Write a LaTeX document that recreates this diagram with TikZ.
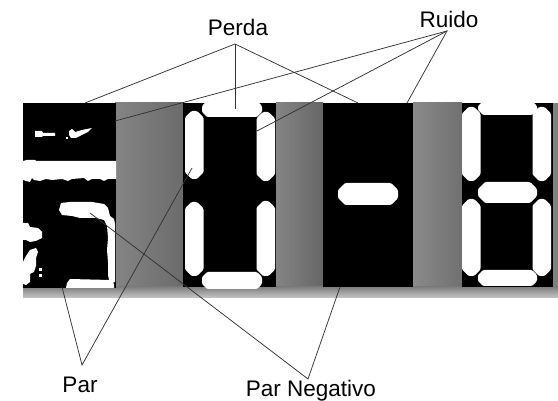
\documentclass[tikz,border=0pt]{standalone}
\usepackage{fontspec}
\setmainfont{Liberation Sans}
\begin{document}
\begin{tikzpicture}[x=1pt,y=-1pt,
  lbl/.style={font=\fontsize{22.5}{26}\selectfont, inner sep=0pt, anchor=base},
  conn/.style={draw=black!80, line width=0.75pt},
  seg/.style={fill=white, draw=none, rounded corners=1.2pt},
  digit/.style={fill=black, draw=none}]
\useasboundingbox (0,0) rectangle (558,401);
% background strip
\fill[black!50] (115,103) rectangle (558,287);
\shade[left color=black!48, right color=black!58] (115,103) rectangle (183,287);
\shade[left color=black!48, right color=black!60] (276,103) rectangle (323,287);
\shade[left color=black!46, right color=black!56] (413,103) rectangle (462,287);
\shade[top color=black!50, bottom color=black!22] (23,287) rectangle (558,298);
% digit boxes
\fill[digit] (23,103) rectangle (116,288);
\fill[digit] (183,103) rectangle (276,287);
\fill[digit] (323,103) rectangle (413,287);
\fill[digit] (462,103) rectangle (553,287);
% segment macro
\newcommand\octseg[5]{\fill[seg] (#1,#2+#5) -- (#1+#5,#2) -- (#3-#5,#2) -- (#3,#2+#5) -- (#3,#4-#5) -- (#3-#5,#4) -- (#1+#5,#4) -- (#1,#4-#5) -- cycle;}
% digit 2
\octseg{202}{101}{262}{117}{5}
\octseg{185}{111}{203.5}{179}{6.5}
\octseg{185}{202}{203.5}{276}{6.5}
\octseg{256.5}{112}{275}{181}{6.5}
\octseg{256.5}{201}{275}{276}{6.5}
\octseg{202}{272}{262}{289}{5}
% digit 3
\octseg{338}{183}{398}{205}{7}
% digit 4
\octseg{478}{101}{537}{115}{5}
\octseg{462}{107}{480.5}{181}{6.5}
\octseg{462}{199}{480.5}{276}{6.5}
\octseg{532.5}{107}{551}{181}{6.5}
\octseg{532.5}{199}{551}{276}{6.5}
\octseg{478}{182}{537}{203}{7}
\octseg{478}{270}{537}{286}{5}
% digit 1 (noisy)
\fill[white] (35,131) -- (42,131) -- (43,133) -- (55,133) -- (55,136) -- (43,136) -- (42,137) -- (35,137) -- cycle;
\fill[white] (65.5,137) rectangle (67.5,139);
\fill[white] (69,131) -- (72,129) -- (75,132) -- (82,130) -- (92,128) -- (88,132) -- (80,136) -- (76,138) -- (71,138) -- (69,135) -- cycle;
\fill[white] (23,161) -- (27,160) -- (35,160) -- (36,161) -- (116,161) -- (116,179) -- (108,179) -- (104,181) -- (100,179) -- (92,179) -- (88,181) -- (84,178) -- (72,179) -- (68,181) -- (62,179) -- (52,180) -- (46,179) -- (40,181) -- (34,180) -- (32,178) -- (30,182) -- (26,181) -- (23,180) -- cycle;
\fill[white] (61,203) -- (70,202) -- (92,202) -- (104,204) -- (108,208) -- (110,216) -- (114,219) -- (115,224) -- (115,282) -- (110,284) -- (108,275) -- (108,262) -- (107,250) -- (108,238) -- (107,226) -- (104,220) -- (96,218) -- (80,218) -- (72,216) -- (62,215) -- (59,210) -- cycle;
\fill[white] (67,283) -- (70,279) -- (110,280) -- (114,284) -- (114,288) -- (66,288) -- cycle;
\fill[white] (23,223) -- (28,223) -- (30,227) -- (38,228) -- (42,232) -- (42,238) -- (36,241) -- (30,242) -- (26,240) -- (23,240) -- cycle;
\fill[white] (23,262) -- (26,256) -- (30,250) -- (36,248) -- (38,252) -- (36,258) -- (36,266) -- (34,272) -- (30,274) -- (30,282) -- (26,285) -- (23,284) -- cycle;
\fill[white] (39,268) rectangle (41.5,271);
\fill[white] (39,274) rectangle (41.5,277);
% labels
\node[lbl] (perda) at (238,36) {Perda};
\node[lbl] (ruido) at (449,28) {Ruido};
\node[lbl] (par) at (80,393) {Par};
\node[lbl] (parneg) at (311,396) {Par Negativo};
% apexes and targets
\coordinate (pA) at (235,44);
\coordinate (rA) at (447,31);
\coordinate (parA) at (82,365);
\coordinate (pnA) at (308,379);
\coordinate (p1) at (85,103);
\coordinate (p2) at (235,109);
\coordinate (p3) at (358,103);
\coordinate (r1) at (115,121);
\coordinate (r2) at (257,131);
\coordinate (r3) at (407,103);
\coordinate (a1) at (62,287);
\coordinate (a2) at (192,168);
\coordinate (n1) at (90,213);
\coordinate (n2) at (340,287);
% connectors
\draw[conn] (p1) -- (pA) -- (p3);
\draw[conn] (pA) -- (p2);
\draw[conn] (r1) -- (rA) -- (r3);
\draw[conn] (rA) -- (r2);
\draw[conn] (a1) -- (parA) -- (a2);
\draw[conn] (n1) -- (pnA) -- (n2);
\end{tikzpicture}
\end{document}
